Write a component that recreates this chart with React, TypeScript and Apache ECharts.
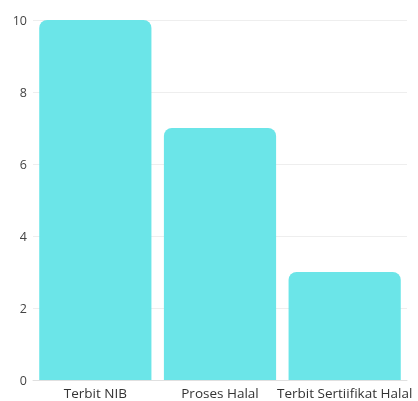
import React, { useEffect, useRef } from "react";
import * as echarts from "echarts";

const categories = ["Terbit NIB", "Proses Halal", "Terbit Sertiifikat Halal"];
const values = [10, 7, 3];

export default function App() {
  const ref = useRef<HTMLDivElement>(null);
  useEffect(() => {
    if (!ref.current) return;
    const chart = echarts.init(ref.current, undefined, { renderer: "svg" });
    chart.setOption({
      animation: false,
      grid: { left: 33, right: 11, top: 20, bottom: 21, containLabel: false },
      xAxis: {
        type: "category",
        data: categories,
        axisTick: { show: false },
        axisLine: { lineStyle: { color: "#e0e0e0" } },
        axisLabel: { color: "#333", fontSize: 13.5, fontFamily: "Open Sans", margin: 6, interval: 0 },
      },
      yAxis: {
        type: "value",
        min: 0,
        max: 10,
        interval: 2,
        axisLine: { show: false },
        axisTick: { show: false },
        splitLine: { lineStyle: { color: "#eeeeee" } },
        axisLabel: { color: "#444", fontSize: 12.5, fontFamily: "Open Sans", margin: 6 },
      },
      series: [
        {
          type: "bar",
          data: values,
          barWidth: "90%",
          itemStyle: { color: "#6be5e8", borderRadius: [8, 8, 0, 0] },
        },
      ],
    });
    return () => chart.dispose();
  }, []);
  return <div ref={ref} style={{ position: "fixed", left: 0, top: 0, width: 418, height: 401 }} />;
}
